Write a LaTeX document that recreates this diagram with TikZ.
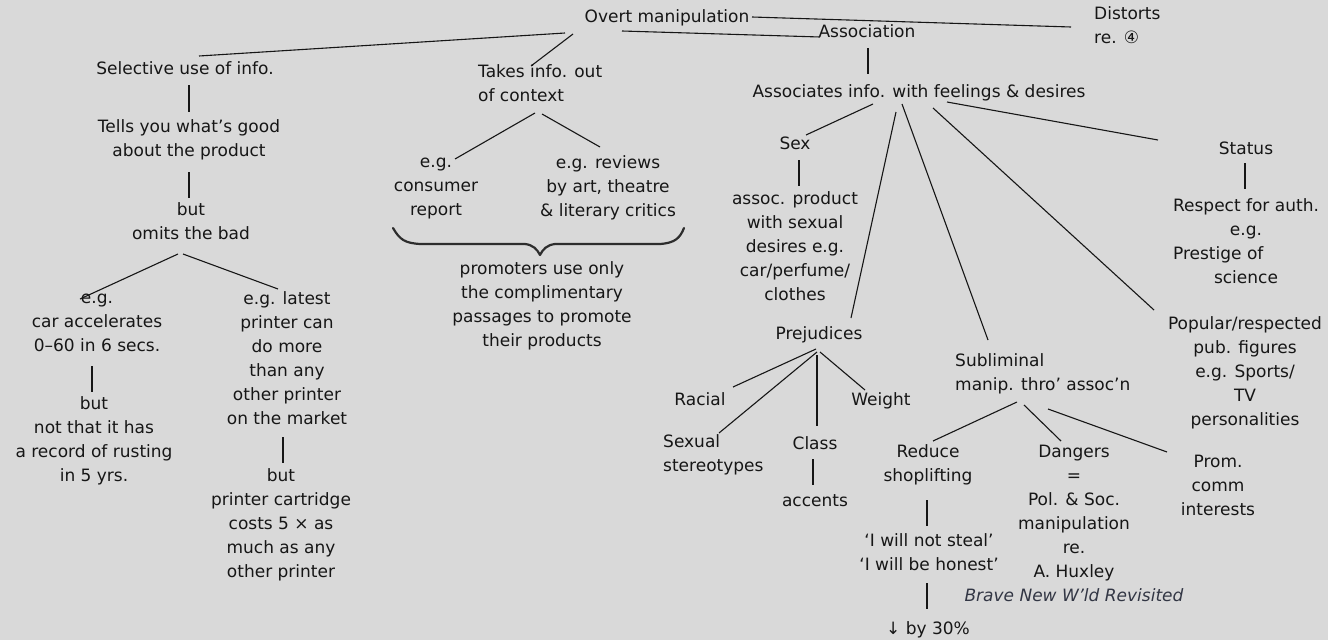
\documentclass[tikz,border=0pt]{standalone}
\usepackage{fontspec}
\setmainfont{DejaVu Sans}
\usetikzlibrary{calc}
\definecolor{bgc}{RGB}{217,217,217}
\definecolor{ink}{RGB}{22,22,22}
\definecolor{slate}{RGB}{50,54,68}
\newcommand\nx{\\\strut}
\begin{document}
\begin{tikzpicture}[x=1pt,y=-1pt,
  txt/.style={font=\fontsize{17}{24}\selectfont, inner sep=0pt, align=center, text=ink, yshift=-2pt, execute at begin node=\strut},
  ln/.style={draw=ink, line width=1.1pt},
  bracestyle/.style={draw=ink!90, line width=2.2pt, line cap=round, line join=round}]
\fill[bgc] (0,0) rectangle (1328,640);
\useasboundingbox (0,0) rectangle (1328,640);

% ---- nodes ----
\node[txt] (overt) at (667,16) {Overt manipulation};
\node[txt,align=left,anchor=west] (distorts) at (1094,27) {Distorts\nx re. ④};
\node[txt] (assoc) at (867,31) {Association};
\node[txt] (sel) at (185,68) {Selective use of info.};
\node[txt,align=left,anchor=west] (takes) at (478,85) {Takes info. out\nx of context};
\node[txt] (assocs) at (919,91) {Associates info. with feelings \& desires};
\node[txt] (tells) at (189,140) {Tells you what’s good\nx about the product};
\node[txt] (omits) at (191,223) {but\nx omits the bad};
\node[txt] (eg1) at (97,324) {e.g.\nx car accelerates\nx 0–60 in 6 secs.};
\node[txt] (nothas) at (94,441) {but\nx not that it has\nx a record of rusting\nx in 5 yrs.};
\node[txt] (eg2) at (287,360) {e.g. latest\nx printer can\nx do more\nx than any\nx other printer\nx on the market};
\node[txt] (cart) at (281,525) {but\nx printer cartridge\nx costs 5 × as\nx much as any\nx other printer};
\node[txt] (consumer) at (436,188) {e.g.\nx consumer\nx report};
\node[txt] (reviews) at (608,188) {e.g. reviews\nx by art, theatre\nx \& literary critics};
\node[txt] (promoters) at (542,306) {promoters use only\nx the complimentary\nx passages to promote\nx their products};
\node[txt] (sex) at (795,143) {Sex};
\node[txt] (sexdesc) at (795,248) {assoc. product\nx with sexual\nx desires e.g.\nx car/perfume/\nx clothes};
\node[txt] (prej) at (819,333) {Prejudices};
\node[txt] (racial) at (700,399) {Racial};
\node[txt] (weight) at (881,399) {Weight};
\node[txt,align=left,anchor=west] (sexster) at (663,455) {Sexual\nx stereotypes};
\node[txt] (class) at (815,443) {Class};
\node[txt] (accents) at (815,500) {accents};
\node[txt,align=left,anchor=west] (subl) at (955,374) {Subliminal\nx manip. thro’ assoc’n};
\node[txt] (reduce) at (928,465) {Reduce\nx shoplifting};
\node[txt] (steal) at (929,554) {‘I will not steal’\nx ‘I will be honest’};
\node[txt] (by30) at (928,628) {↓ by 30\%};
\node[txt] (dangers) at (1074,525) {Dangers\nx =\nx Pol. \& Soc.\nx manipulation\nx re.\nx A. Huxley\nx {\color{slate}\itshape Brave New W’ld Revisited}};
\node[txt] (prom) at (1218,487) {Prom.\nx comm\nx interests};
\node[txt] (status) at (1246,148) {Status};
\node[txt] (respect) at (1246,243) {Respect for auth.\nx e.g.\nx \rlap{Prestige of}\hphantom{Respect for auth.}\nx science};
\node[txt] (popular) at (1245,373) {Popular/respected\nx pub. figures\nx e.g. Sports/\nx TV\nx personalities};

% ---- connectors (offsets compensate the text shift) ----
\begin{scope}[yshift=2pt]
\draw[ln] ($(overt)+(85,-1)$) -- ($(distorts.west)+(-23,-2)$);
\draw[ln] ($(overt)+(-45,13)$) -- ($(assoc)+(-47,4)$);
\draw[ln] ($(overt)+(-102,15)$) -- ($(sel)+(14,-14)$);
\draw[ln] ($(overt)+(-94,16)$) -- ($(takes.west)+(53,-21)$);
\draw[ln] ($(assoc)+(1,15)$) -- ($(assocs)+(-51,-19)$);
\draw[ln] ($(sel)+(4,15)$) -- ($(tells)+(0,-30)$);
\draw[ln] ($(tells)+(0,30)$) -- ($(omits)+(-2,-27)$);
\draw[ln] ($(omits)+(-13,29)$) -- ($(eg1)+(-17,-27)$);
\draw[ln] ($(omits)+(-8,29)$) -- ($(eg2)+(-9,-73)$);
\draw[ln] ($(eg1)+(-5,40)$) -- ($(nothas)+(-2,-51)$);
\draw[ln] ($(eg2)+(-4,75)$) -- ($(cart)+(2,-64)$);
\draw[ln] ($(takes.west)+(57,26)$) -- ($(consumer)+(19,-31)$);
\draw[ln] ($(takes.west)+(64,27)$) -- ($(reviews)+(-8,-43)$);
\draw[ln] ($(assocs)+(-46,11)$) -- ($(sex)+(11,-10)$);
\draw[ln] ($(sex)+(4,15)$) -- ($(sexdesc)+(4,-64)$);
\draw[ln] ($(assocs)+(-23,19)$) -- ($(prej)+(32,-17)$);
\draw[ln] ($(assocs)+(-17,11)$) -- ($(subl.west)+(33,-36)$);
\draw[ln] ($(assocs)+(14,15)$) -- ($(popular)+(-91,-65)$);
\draw[ln] ($(assocs)+(28,9)$) -- ($(status)+(-88,-10)$);
\draw[ln] ($(status)+(-1,13)$) -- ($(respect)+(-1,-56)$);
\draw[ln] ($(prej)+(-3,14)$) -- ($(racial)+(33,-14)$);
\draw[ln] ($(prej)+(-2,17)$) -- ($(sexster.west)+(56,-24)$);
\draw[ln] ($(prej)+(-2,20)$) -- ($(class)+(2,-19)$);
\draw[ln] ($(prej)+(1,17)$) -- ($(weight)+(-16,-11)$);
\draw[ln] ($(class)+(-2,14)$) -- ($(accents)+(-2,-17)$);
\draw[ln] ($(subl.west)+(62,26)$) -- ($(reduce)+(5,-26)$);
\draw[ln] ($(subl.west)+(69,29)$) -- ($(dangers)+(-13,-86)$);
\draw[ln] ($(subl.west)+(93,33)$) -- ($(prom)+(-51,-37)$);
\draw[ln] ($(reduce)+(-1,33)$) -- ($(steal)+(-2,-30)$);
\draw[ln] ($(steal)+(-2,27)$) -- ($(by30)+(-1,-21)$);
\end{scope}

% ---- brace ----
\draw[bracestyle] (393,228) .. controls (400,240) and (405,243) .. (420,244) -- (525,244)
  .. controls (533,245) and (537,249) .. (540,255)
  .. controls (543,249) and (547,245) .. (555,244) -- (660,244)
  .. controls (675,243) and (680,238) .. (684,228);
\end{tikzpicture}
\end{document}
